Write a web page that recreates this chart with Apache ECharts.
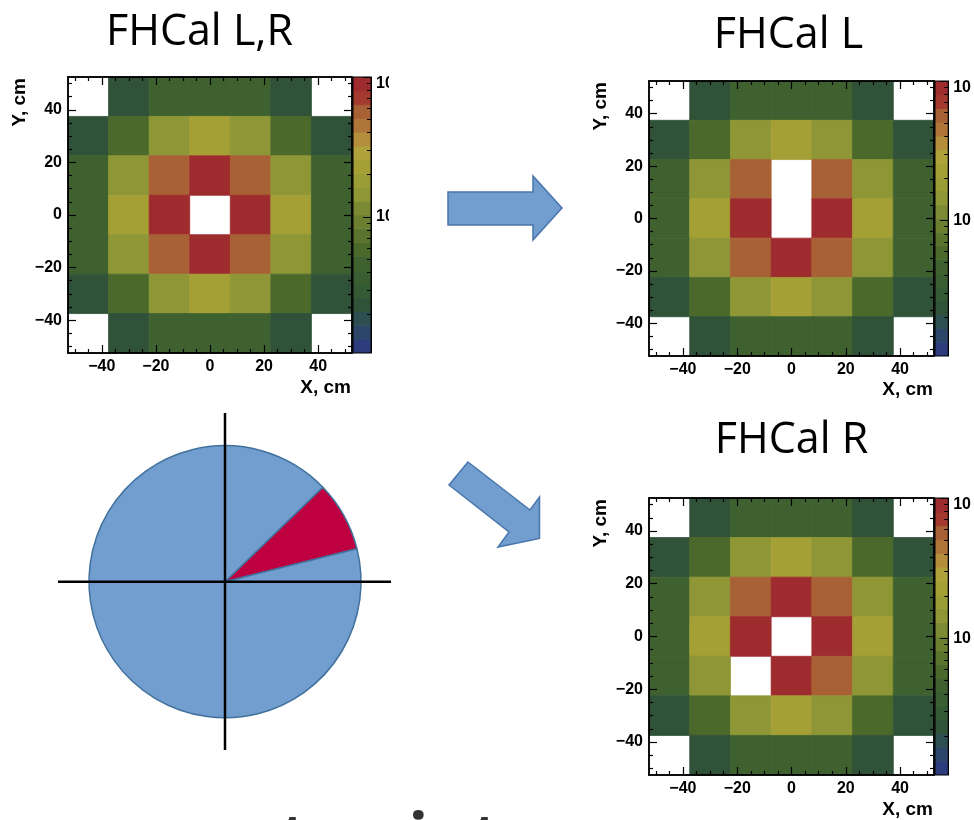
<!DOCTYPE html>
<html>
<head>
<meta charset="utf-8">
<script src="https://cdn.jsdelivr.net/npm/echarts@6/dist/echarts.min.js"></script>
<style>
  html, body { margin: 0; padding: 0; background: #fff; }
  #chart { width: 974px; height: 820px; }
</style>
</head>
<body>
<div id="chart"></div>
<script>
// FHCal module grid: centres of the 7x7 modules (cm)
const xCenters = [-45, -30, -15, 0, 15, 30, 45];
const yCenters = [45, 30, 15, 0, -15, -30, -45];   // rows top to bottom
const moduleSize = 15;                              // cm

// Hit counts per module, rows from Y=45 down to Y=-45; null = no module
const countsLR = [
  [null, 23, 46, 47, 46, 23, null],
  [23, 58, 145, 228, 145, 58, 23],
  [46, 145, 565, 890, 565, 145, 46],
  [47, 228, 890, null, 890, 228, 47],
  [46, 145, 565, 890, 565, 145, 46],
  [23, 58, 145, 228, 145, 58, 23],
  [null, 23, 46, 47, 46, 23, null]
];
const countsL = [
  [null, 23, 46, 47, 46, 23, null],
  [23, 58, 145, 228, 145, 58, 23],
  [46, 145, 565, null, 565, 145, 46],
  [47, 228, 890, null, 890, 228, 47],
  [46, 145, 565, 890, 565, 145, 46],
  [23, 58, 145, 228, 145, 58, 23],
  [null, 23, 46, 47, 46, 23, null]
];
const countsR = [
  [null, 23, 46, 47, 46, 23, null],
  [23, 58, 145, 228, 145, 58, 23],
  [46, 145, 565, 890, 565, 145, 46],
  [47, 228, 890, null, 890, 228, 47],
  [46, 145, null, 890, 565, 145, 46],
  [23, 58, 145, 228, 145, 58, 23],
  [null, 23, 46, 47, 46, 23, null]
];
const panelTitles = ['FHCal L,R', 'FHCal L', 'FHCal R'];

// Axis ticks (cm)
const majorTicks = [-40, -20, 0, 20, 40];
const minorTicks = [-50, -45, -35, -30, -25, -15, -10, -5, 5, 10, 15, 25, 30, 35, 45, 50];

// Colour scale (log z)
const zMin = 10.6;
const zMax = 1000;
const cbMajor = [100, 1000];
const cbMinor = [20, 30, 40, 50, 60, 70, 80, 90, 200, 300, 400, 500, 600, 700, 800, 900];
const palette = [
  '#2c3c7c', '#2c466a', '#2e4f52', '#2f5238', '#345a34',
  '#3a5e31', '#3f612f', '#4c692c', '#5a742e', '#6a8030',
  '#7c8b33', '#8e9636', '#9a9c36', '#a4a036', '#b0a23a',
  '#b48e3a', '#b07538', '#a86035', '#a3392f', '#9e2b2e'
];

// Sector of the pie (degrees)
const pieAngles = [30, 330];

const panels = [
  { counts: countsLR, left: 68, top: 77, width: 284, height: 276, cbLeft: 353, titleX: 199.5, titleY: 33, yTitleX: 19.5, xTitleY: 387.5 },
  { counts: countsL, left: 649, top: 81, width: 285, height: 275, cbLeft: 935, titleX: 788.5, titleY: 36, yTitleX: 600.5, xTitleY: 390 },
  { counts: countsR, left: 649, top: 498, width: 285, height: 277, cbLeft: 935, titleX: 791.5, titleY: 441, yTitleX: 600.5, xTitleY: 809.5 }
];

const logMin = Math.log10(zMin);
const logMax = Math.log10(zMax);
const nContours = palette.length;
const logStep = (logMax - logMin) / nContours;

const pieces = palette.map((c, b) => {
  const p = { gte: Math.pow(10, logMin + b * logStep), color: c };
  if (b < nContours - 1) p.lt = Math.pow(10, logMin + (b + 1) * logStep);
  else p.lte = zMax * 1.0001;
  return p;
});
const bands = palette.map((c, b) => [b, logMin + b * logStep, logMin + (b + 1) * logStep]);

const labelFont = { color: '#000', fontFamily: 'Liberation Sans', fontWeight: 'bold', fontSize: 16 };
const lineStyle = { color: '#000', width: 1.5 };

function frameAxis(gridIndex, position, ticks, len, withLabels) {
  return {
    type: 'value', gridIndex, position, min: -52.5, max: 52.5,
    axisLine: { show: true, onZero: false, lineStyle },
    axisTick: { show: true, inside: true, length: len, customValues: ticks, lineStyle: { color: '#000', width: 1.2 } },
    axisLabel: withLabels
      ? Object.assign({ show: true, customValues: ticks, margin: 6, formatter: v => String(v).replace('-', '\u2212') }, labelFont)
      : { show: false },
    splitLine: { show: false },
    z: 5
  };
}

function cellItem(params, api) {
  const x = api.value(0), y = api.value(1), h = moduleSize / 2;
  const p0 = api.coord([x - h, y + h]);
  const p1 = api.coord([x + h, y - h]);
  const c = api.visual('color');
  return {
    type: 'rect',
    shape: { x: p0[0], y: p0[1], width: p1[0] - p0[0], height: p1[1] - p0[1] },
    style: { fill: c, stroke: c, lineWidth: 0.8 }
  };
}

function bandItem(params, api) {
  const b = api.value(0);
  const p0 = api.coord([0, api.value(1)]);
  const p1 = api.coord([1, api.value(2)]);
  return {
    type: 'rect',
    shape: { x: p0[0], y: p1[1], width: p1[0] - p0[0], height: p0[1] - p1[1] },
    style: { fill: palette[b], stroke: palette[b], lineWidth: 0.8 }
  };
}

const grid = [], xAxis = [], yAxis = [], series = [], graphic = [];
const cellSeries = [];

panels.forEach((p, i) => {
  grid.push({ left: p.left, top: p.top, width: p.width, height: p.height });
  grid.push({ left: p.cbLeft, top: p.top, width: 18, height: p.height, show: true, borderColor: '#000', borderWidth: 1, z: 5 });
  const gMain = 2 * i, gCb = 2 * i + 1;
  const xBase = xAxis.length, yBase = yAxis.length;

  xAxis.push(frameAxis(gMain, 'bottom', majorTicks, 8, true));
  xAxis.push(frameAxis(gMain, 'bottom', minorTicks, 4, false));
  xAxis.push(frameAxis(gMain, 'top', majorTicks, 8, false));
  xAxis.push(frameAxis(gMain, 'top', minorTicks, 4, false));
  xAxis.push({ type: 'value', gridIndex: gCb, min: 0, max: 1, show: false });

  yAxis.push(frameAxis(gMain, 'left', majorTicks, 8, true));
  yAxis.push(frameAxis(gMain, 'left', minorTicks, 4, false));
  yAxis.push(frameAxis(gMain, 'right', majorTicks, 8, false));
  yAxis.push(frameAxis(gMain, 'right', minorTicks, 4, false));
  yAxis.push({
    type: 'value', gridIndex: gCb, position: 'right', min: logMin, max: logMax,
    axisLine: { show: true, onZero: false, lineStyle: { color: '#000', width: 1 } },
    axisTick: { show: true, inside: true, length: 8, customValues: cbMajor.map(Math.log10), lineStyle: { color: '#000', width: 1 } },
    axisLabel: Object.assign({
      show: true, customValues: cbMajor.map(Math.log10), margin: 5,
      formatter: v => (v > 2.5 ? '{top|10}' : '10'),
      rich: { top: Object.assign({ padding: [14, 0, 0, 0] }, labelFont) }
    }, labelFont),
    splitLine: { show: false },
    z: 5
  });
  yAxis.push({
    type: 'value', gridIndex: gCb, position: 'right', min: logMin, max: logMax,
    axisLine: { show: false, onZero: false },
    axisTick: { show: true, inside: true, length: 4, customValues: cbMinor.map(Math.log10), lineStyle: { color: '#000', width: 1 } },
    axisLabel: { show: false },
    splitLine: { show: false },
    z: 5
  });

  const data = [];
  p.counts.forEach((row, r) => row.forEach((v, c) => {
    if (v != null) data.push([xCenters[c], yCenters[r], v]);
  }));
  cellSeries.push(series.length);
  series.push({
    type: 'custom', xAxisIndex: xBase, yAxisIndex: yBase,
    renderItem: cellItem, data, silent: true, z: 1, clip: true
  });
  series.push({
    type: 'custom', xAxisIndex: xBase + 4, yAxisIndex: yBase + 4,
    renderItem: bandItem, data: bands, silent: true, z: 1, clip: true
  });

  // panel title and axis titles
  graphic.push({ type: 'text', x: p.titleX, y: p.titleY, z: 100,
    style: { text: panelTitles[i], fontFamily: 'Open Sans', fontSize: 43, fill: '#000', align: 'center', verticalAlign: 'middle' } });
  graphic.push({ type: 'text', x: p.left + p.width - 1, y: p.xTitleY, z: 100,
    style: { text: 'X, cm', fontFamily: 'Liberation Sans', fontWeight: 'bold', fontSize: 19, fill: '#000', align: 'right', verticalAlign: 'middle' } });
  graphic.push({ type: 'text', x: p.yTitleX, y: p.top + 1, rotation: Math.PI / 2, z: 100,
    style: { text: 'Y, cm', fontFamily: 'Liberation Sans', fontWeight: 'bold', fontSize: 19, fill: '#000', align: 'right', verticalAlign: 'middle' } });
});

// pie with the highlighted sector
series.push({
  type: 'pie', center: [225, 581.7], radius: 136, startAngle: 44, clockwise: true,
  silent: true, label: { show: false }, labelLine: { show: false }, z: 2,
  itemStyle: { borderColor: '#41719c', borderWidth: 1.5 },
  data: [
    { value: pieAngles[0], name: 'sector', itemStyle: { color: '#be0040' } },
    { value: pieAngles[1], name: 'rest', itemStyle: { color: '#719ecf' } }
  ]
});

const arrowStyle = { fill: '#719ecf', stroke: '#4a76ab', lineWidth: 1.5 };
graphic.push(
  // the colour-bar labels of the first panel are cut at its right border
  { type: 'rect', z: 90, shape: { x: 389, y: 62, width: 55, height: 175 }, style: { fill: '#fff' } },
  // cross hair over the pie
  { type: 'line', z: 100, shape: { x1: 225, y1: 413, x2: 225, y2: 750 }, style: { stroke: '#000', lineWidth: 2.5 } },
  { type: 'line', z: 100, shape: { x1: 58, y1: 581.7, x2: 391, y2: 581.7 }, style: { stroke: '#000', lineWidth: 2.5 } },
  // arrows
  { type: 'polygon', z: 100, shape: { points: [[448, 192], [533, 192], [533, 176], [562, 208], [533, 240], [533, 225], [448, 225]] }, style: arrowStyle },
  { type: 'polygon', z: 100, shape: { points: [[468, 462], [530, 510], [539.5, 497], [539.5, 538.5], [498, 547], [509, 532], [449, 485]] }, style: arrowStyle },
  // caption running off the lower edge
  { type: 'text', x: 240, y: 842.5, z: 100,
    style: { text: 'at point', fontFamily: 'Open Sans', fontWeight: 'bold', fontSize: 66, fill: '#333', align: 'left', verticalAlign: 'middle' } }
);

const option = {
  animation: false,
  backgroundColor: '#fff',
  grid, xAxis, yAxis,
  visualMap: { type: 'piecewise', show: false, dimension: 2, seriesIndex: cellSeries, pieces },
  series,
  graphic
};

const chart = echarts.init(document.getElementById('chart'));
chart.setOption(option);
</script>
</body>
</html>
